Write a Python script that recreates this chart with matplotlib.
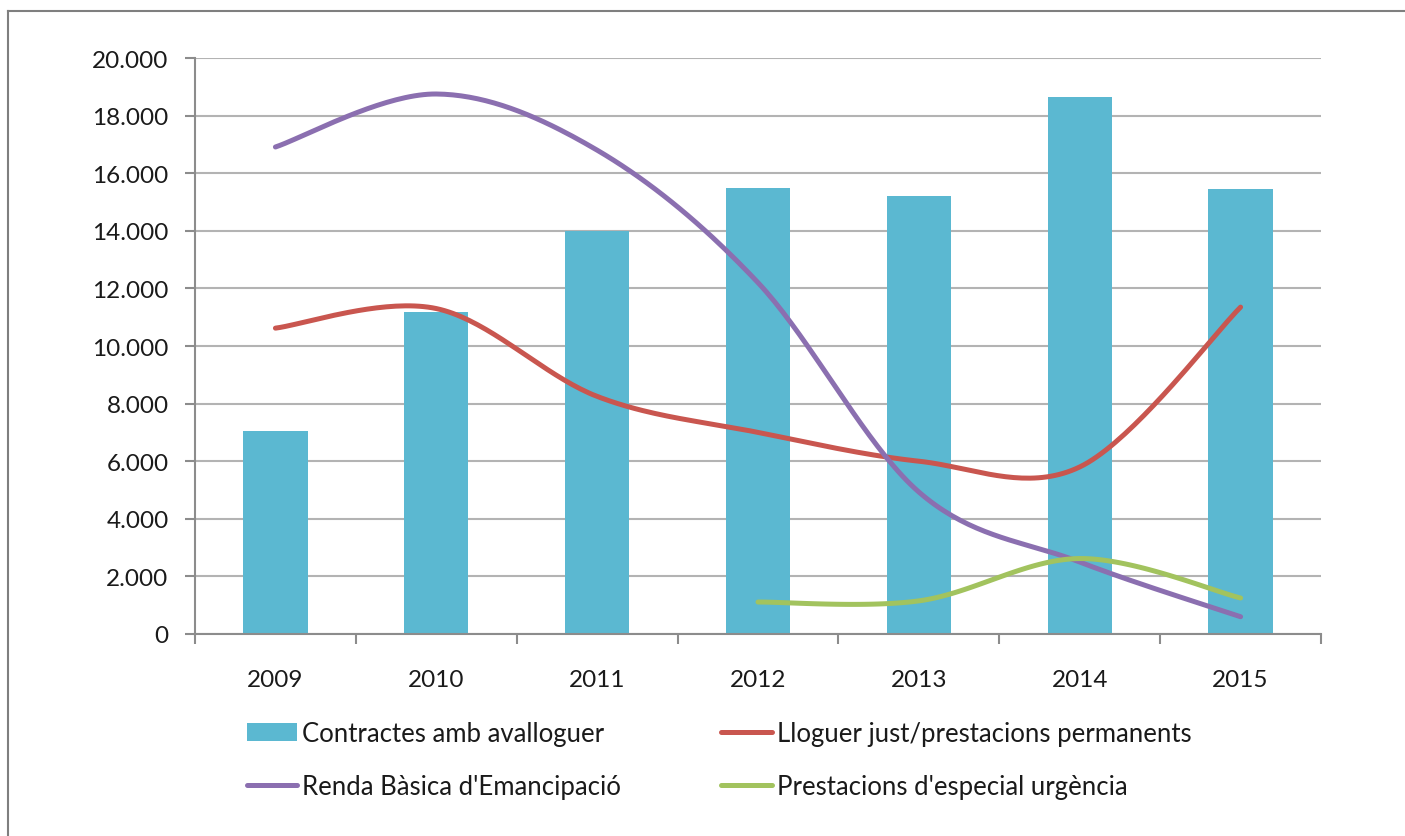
import numpy as np
import matplotlib.pyplot as plt
from matplotlib.lines import Line2D
from matplotlib.patches import Patch

plt.rcParams['font.family'] = ['Lato', 'DejaVu Sans']

years = ['2009', '2010', '2011', '2012', '2013', '2014', '2015']
contractes = [7050, 11190, 14000, 15490, 15200, 18650, 15450]
lloguer_just = [10620, 11300, 8250, 7000, 6000, 5800, 11350]
renda_basica = [16910, 18750, 16800, 12200, 4930, 2500, 600]
especial_urgencia = [None, None, None, 1110, 1150, 2620, 1250]

bar_color = '#5BB8D1'
red = '#C9564F'
purple = '#8B6FB0'
green = '#A2C35E'
grid_gray = '#B3B3B3'
axis_gray = '#8C8C8C'


def smooth(xs, ys, steps=40):
    # excel-style smoothed line: bezier segments with catmull-rom control points
    pts = np.column_stack([xs, ys]).astype(float)
    n = len(pts)
    out = [pts[0]]
    for i in range(n - 1):
        p0 = pts[i - 1] if i > 0 else pts[i]
        p1 = pts[i]
        p2 = pts[i + 1]
        p3 = pts[i + 2] if i + 2 < n else pts[i + 1]
        c1 = p1 + (p2 - p0) / 6
        c2 = p2 - (p3 - p1) / 6
        t = np.linspace(0, 1, steps)[1:, None]
        seg = ((1 - t) ** 3) * p1 + 3 * ((1 - t) ** 2) * t * c1 + 3 * (1 - t) * t ** 2 * c2 + t ** 3 * p2
        out.extend(seg)
    out = np.array(out)
    return out[:, 0], out[:, 1]


fig = plt.figure(figsize=(14.05, 8.37), dpi=100)
ax = fig.add_axes([195 / 1405, 1 - 635 / 837, 1126 / 1405, 576 / 837])

x = np.arange(len(years))
ax.bar(x, contractes, width=0.4, color=bar_color, zorder=2)

for vals, col in [(lloguer_just, red), (renda_basica, purple), (especial_urgencia, green)]:
    xv = [i for i, v in enumerate(vals) if v is not None]
    yv = [v for v in vals if v is not None]
    sx, sy = smooth(xv, yv)
    ax.plot(sx, sy, color=col, lw=3.6, solid_capstyle='round', zorder=3)

ax.set_xlim(-0.5, len(years) - 0.5)
ax.set_ylim(0, 20000)
ax.set_yticks(np.arange(0, 20001, 2000))
ax.set_yticklabels([f'{v:,}'.replace(',', '.') for v in range(0, 20001, 2000)])
ax.set_xticks(x)
ax.set_xticklabels(years)
ax.set_xticks(np.arange(-0.5, len(years), 1), minor=True)

ax.yaxis.grid(True, color=grid_gray, lw=1.5, zorder=0)
ax.set_axisbelow(True)
for side in ['top', 'right']:
    ax.spines[side].set_visible(False)
for side in ['left', 'bottom']:
    ax.spines[side].set_color(axis_gray)
    ax.spines[side].set_linewidth(1.5)

ax.tick_params(axis='y', length=7, width=1.5, color=axis_gray, pad=12, labelsize=17.5, labelcolor='#1a1a1a')
ax.tick_params(axis='x', which='major', length=0, pad=25, labelsize=17.5, labelcolor='#1a1a1a')
ax.tick_params(axis='x', which='minor', length=7, width=1.5, color=axis_gray)

handles = [
    Patch(facecolor=bar_color, edgecolor='none'),
    Line2D([], [], color=purple, lw=3.6, solid_capstyle='round'),
    Line2D([], [], color=red, lw=3.6, solid_capstyle='round'),
    Line2D([], [], color=green, lw=3.6, solid_capstyle='round'),
]
labels = ['Contractes amb avalloguer', "Renda Bàsica d'Emancipació",
          'Lloguer just/prestacions permanents', "Prestacions d'especial urgència"]
fig.legend(handles, labels, ncol=2, loc='upper left', bbox_to_anchor=(224 / 1405, 1 - 699 / 837),
           frameon=False, fontsize=18.5, handlelength=1.95, handleheight=0.7, handletextpad=0.2,
           columnspacing=3.9, labelspacing=1.07, labelcolor='#1a1a1a')

# outer chart border
fig.add_artist(Line2D([8 / 1405, 8 / 1405], [0, 1 - 12 / 837], color='#7f7f7f', lw=1.5))
fig.add_artist(Line2D([8 / 1405, 1], [1 - 12 / 837, 1 - 12 / 837], color='#7f7f7f', lw=1.5))

fig.savefig('out.png', dpi=100)
